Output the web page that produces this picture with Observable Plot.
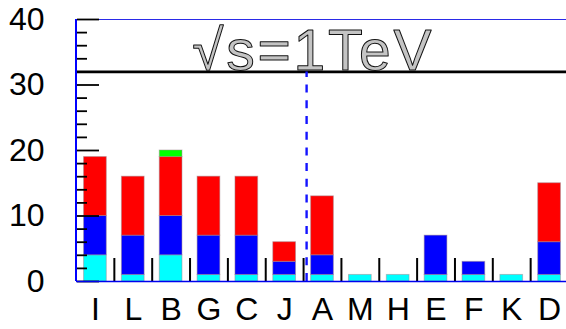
<!DOCTYPE html>
<html><head><meta charset="utf-8">
<script src="https://cdn.jsdelivr.net/npm/d3@7"></script>
<script src="https://cdn.jsdelivr.net/npm/@observablehq/plot@0.6"></script>
<style>
html,body{margin:0;padding:0;overflow:hidden;background:#fff;}
svg{max-width:none !important;}
</style></head><body><div id="chart"></div>
<script>
const categories = ["I","L","B","G","C","J","A","M","H","E","F","K","D"];
const cyanValues  = [4,1,4,1,1,1,1,1,1,1,1,1,1];
const blueValues  = [6,6,6,6,6,2,3,0,0,6,2,0,5];
const redValues   = [9,9,9,9,9,3,9,0,0,0,0,0,9];
const greenValues = [0,0,1,0,0,0,0,0,0,0,0,0,0];
const seriesNames  = ["cyan part","blue part","red part","green part"];
const seriesColors = ["#00ffff","#0000ff","#ff0000","#00ff00"];
const yTickLabels = [0,10,20,30,40];
const yMinorTicks = [2,4,6,8,12,14,16,18,22,24,26,28,32,34,36,38];
const thresholdY = 32;
const dividerX = 6.08;
const energyLabel = "\u221As=1TeV";
const energyLabelX = 3.06;

const seriesValues = [cyanValues, blueValues, redValues, greenValues];
const rows = [];
categories.forEach((c, i) => {
  let base = 0;
  seriesValues.forEach((vals, s) => {
    const v = vals[i];
    if (v > 0) rows.push({cat: c, idx: i, series: seriesNames[s], y1: base, y2: base + v});
    base += v;
  });
});
const halfBar = 0.3;
const boundaries = categories.slice(1).map((c, i) => i + 1);
const centers = categories.map((c, i) => i + 0.5);

const W = 568, H = 329, mL = 76, mT = 19, mB = 48;
const plotH = H - mT - mB;

const chart = Plot.plot({
  width: W, height: H,
  marginLeft: mL, marginRight: 0, marginTop: mT, marginBottom: mB,
  style: {fontFamily: "'Liberation Sans', Arial, sans-serif", background: "white"},
  x: {type: "linear", domain: [0, categories.length]},
  y: {domain: [0, 40]},
  color: {type: "ordinal", domain: seriesNames, range: seriesColors},
  marks: [
    Plot.rect(rows, {x1: d => d.idx + 0.5 - halfBar, x2: d => d.idx + 0.5 + halfBar, y1: "y1", y2: "y2",
      fill: "series", stroke: "#a08890", strokeOpacity: 0.5, strokeWidth: 1}),
    Plot.ruleY([40], {stroke: "#2a2ae8", strokeWidth: 1}),
    Plot.ruleY([thresholdY], {stroke: "black", strokeWidth: 2.6}),
    Plot.ruleX([dividerX], {y1: 0, y2: thresholdY, stroke: "#1414ff", strokeWidth: 2.4, strokeDasharray: "8,7.7"}),
    Plot.tickY(yTickLabels, {y: d => d, stroke: "black", strokeWidth: 1.8, insetLeft: 1, insetRight: W - mL - 23}),
    Plot.tickY(yMinorTicks, {y: d => d, stroke: "black", strokeWidth: 1.8, insetLeft: 1, insetRight: W - mL - 11}),
    Plot.tickX(boundaries, {x: d => d, stroke: "black", strokeWidth: 2, insetTop: plotH - 23}),
    Plot.ruleY([0], {stroke: "#0000ee", strokeWidth: 1.5}),
    Plot.ruleX([0], {stroke: "#0000ff", strokeWidth: 2, dx: -0.5}),
    Plot.axisY(yTickLabels, {anchor: "left", tickSize: 0, tickPadding: 32, fontSize: 32, label: null}),
    Plot.axisX(centers, {anchor: "bottom", tickSize: 0, tickPadding: 16, fontSize: 32, label: null,
      tickFormat: d => categories[Math.floor(d)]}),
    Plot.text([energyLabel], {x: energyLabelX, y: thresholdY, text: d => d, textAnchor: "start",
      lineAnchor: "bottom", dy: -1.5, fontSize: 57, fill: "#c4c4c4", stroke: "#111", strokeWidth: 1,
      paintOrder: "normal", fontFamily: "'Liberation Sans', Arial, sans-serif"})
  ]
});
d3.select(chart).selectAll("text")
  .filter(function() { return this.textContent === energyLabel; })
  .attr("letter-spacing", "2.7px");
document.getElementById("chart").appendChild(chart);
</script></body></html>
